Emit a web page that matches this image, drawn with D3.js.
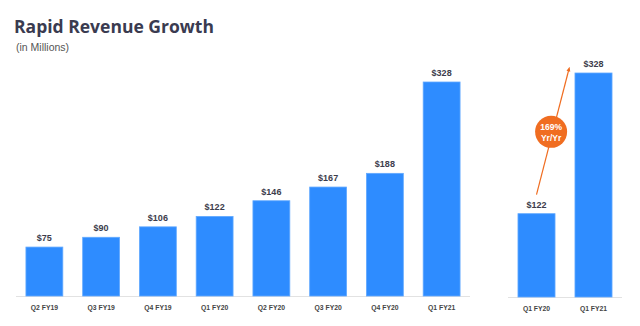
<!DOCTYPE html>
<html><head><meta charset="utf-8">
<script src="https://cdn.jsdelivr.net/npm/d3@7"></script>
<style>html,body{margin:0;padding:0;background:#fff;}svg{display:block;}</style>
</head><body>
<svg id="c" width="640" height="326"></svg>
<script>
const categories = ["Q2 FY19","Q3 FY19","Q4 FY19","Q1 FY20","Q2 FY20","Q3 FY20","Q4 FY20","Q1 FY21"];
const revenue = [75, 90, 106, 122, 146, 167, 188, 328];
const compareCategories = ["Q1 FY20","Q1 FY21"];
const compareRevenue = [122, 328];
const growthLabel = ["169%", "Yr/Yr"];

const svg = d3.select("#c");
const barColor = "#2e8cff", textColor = "#3c3c4c", orange = "#f06d21";

// title
const title = svg.append("text").attr("x", 14).attr("y", 33)
  .attr("font-family", "'Open Sans', sans-serif").attr("font-weight", 700)
  .attr("font-size", 21).attr("fill", "#3a3b50").text("Rapid Revenue Growth");
const tw = title.node().getComputedTextLength();
title.attr("font-size", 21 * 200 / tw);
svg.append("text").attr("x", 16).attr("y", 51)
  .attr("font-family", "'Liberation Sans', Arial, sans-serif")
  .attr("font-size", 10.5).attr("fill", "#555").text("(in Millions)");

function drawChart(cats, vals, x0, x1, base, top) {
  const x = d3.scaleBand().domain(cats).range([x0, x1]).paddingInner(0.35).paddingOuter(0.175);
  const y = d3.scaleLinear().domain([0, d3.max(vals)]).range([base, top]);
  const g = svg.append("g");
  g.append("line").attr("x1", x0).attr("x2", x1).attr("y1", base + 0.5).attr("y2", base + 0.5)
    .attr("stroke", "#e2e2e2").attr("stroke-width", 1.2);
  g.selectAll("rect").data(vals).join("rect")
    .attr("x", (d, i) => x(cats[i])).attr("width", x.bandwidth())
    .attr("y", d => y(d)).attr("height", d => base - y(d))
    .attr("fill", barColor).attr("stroke", "#62a9ff").attr("stroke-width", 0.8);
  g.selectAll("text.v").data(vals).join("text").attr("class", "v")
    .attr("x", (d, i) => x(cats[i]) + x.bandwidth() / 2).attr("y", d => y(d) - 6)
    .attr("text-anchor", "middle").attr("font-family", "'Liberation Sans', Arial, sans-serif")
    .attr("font-weight", 700).attr("font-size", 9).attr("fill", textColor)
    .text(d => "$" + d);
  const ax = d3.axisBottom(x).tickSize(0).tickPadding(0);
  const axg = g.append("g").attr("transform", `translate(0,${base + 9})`).call(ax);
  axg.select(".domain").remove();
  axg.selectAll("text").attr("font-family", "'Liberation Sans', Arial, sans-serif")
    .attr("font-weight", 700).attr("font-size", 6.8).attr("fill", "#444").attr("dy", "0.71em");
  return {x, y};
}

drawChart(categories, revenue, 16, 470, 296, 82);
const r = drawChart(compareCategories, compareRevenue, 508, 622, 297, 73);

// growth arrow
const sx = r.x(compareCategories[0]) + r.x.bandwidth() / 2, sy = r.y(compareRevenue[0]) - 19;
const ex = r.x(compareCategories[1]) - 6, ey = r.y(compareRevenue[1]) - 4;
svg.append("defs").append("marker").attr("id", "ah").attr("viewBox", "0 0 10 10")
  .attr("refX", 5).attr("refY", 5).attr("markerWidth", 4).attr("markerHeight", 4)
  .attr("orient", "auto").append("path").attr("d", "M0,1 L10,5 L0,9 Z").attr("fill", orange);
svg.append("line").attr("x1", sx).attr("y1", sy).attr("x2", ex).attr("y2", ey)
  .attr("stroke", orange).attr("stroke-width", 1.2).attr("marker-end", "url(#ah)");
const cx = sx + (ex - sx) * 0.45, cy = sy + (ey - sy) * 0.5;
svg.append("circle").attr("cx", cx).attr("cy", cy).attr("r", 16).attr("fill", orange);
svg.selectAll("text.g").data(growthLabel).join("text").attr("class", "g")
  .attr("x", cx).attr("y", (d, i) => cy - 1.5 + i * 10.5).attr("text-anchor", "middle")
  .attr("font-family", "'Liberation Sans', Arial, sans-serif").attr("font-weight", 700)
  .attr("font-size", 8.5).attr("fill", "#fff").text(d => d);
</script>
</body></html>
